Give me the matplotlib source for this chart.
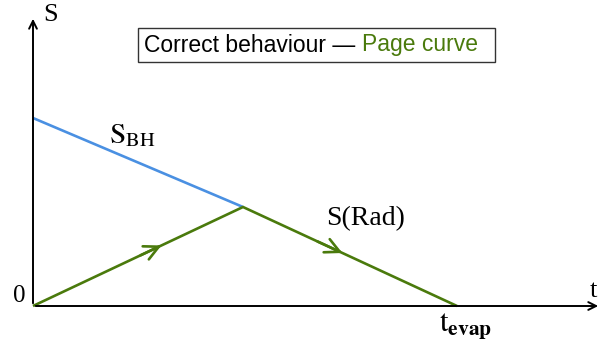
import matplotlib.pyplot as plt

# --- Data (pixel-like units, origin at the axes corner) ---
t_points = [0, 210, 424]          # start, Page time, evaporation
s_bh = [188, 99]                  # black hole entropy (start -> Page time)
s_rad = [0, 99, 0]                # radiation entropy, Page curve
arrow_t = [[105, 131], [282, 312]]  # where the direction chevrons sit

blue = "#4a90e2"
green = "#4a7a0c"

plt.rcParams['mathtext.fontset'] = 'stix'
plt.rcParams['font.family'] = ['Liberation Serif', 'DejaVu Serif']

fig = plt.figure(figsize=(6.05, 3.41), dpi=100)
ax = fig.add_axes([0, 0, 1, 1])
ax.set_xlim(-33, 572)
ax.set_ylim(-35, 306)
ax.axis('off')

# axes with arrow heads
ax.annotate("", xy=(568, 0), xytext=(0, 0),
            arrowprops=dict(arrowstyle='->', lw=1.4, color='black',
                            mutation_scale=14))
ax.annotate("", xy=(0, 290), xytext=(0, 0),
            arrowprops=dict(arrowstyle='->', lw=1.4, color='black',
                            mutation_scale=14))

# curves
ax.plot(t_points[:2], s_bh, color=blue, lw=1.9, solid_capstyle='butt')
ax.plot(t_points, s_rad, color=green, lw=1.9, solid_capstyle='butt')


def on_rad(t):
    if t <= t_points[1]:
        return s_rad[1] * t / t_points[1]
    return s_rad[1] * (t_points[2] - t) / (t_points[2] - t_points[1])


for a, b in arrow_t:
    ax.annotate("", xy=(b, on_rad(b)), xytext=(a, on_rad(a)),
                arrowprops=dict(arrowstyle='->', lw=1.9, color=green,
                                mutation_scale=26))

# labels
ax.text(10, 291, "S", fontsize=19, ha='left', va='center')
ax.text(557, 15, "t", fontsize=19, ha='left', va='center')
ax.text(-14, 10, "0", fontsize=18, ha='center', va='center')
ax.text(76, 170, r"$\mathrm{S}_{\mathrm{BH}}$", fontsize=21, ha='left', va='center')
ax.text(293, 87, "S(Rad)", fontsize=20, ha='left', va='center')
ax.text(406, -20, r"$\mathrm{t}_{\mathbf{evap}}$", fontsize=22, ha='left', va='center')

# title box
ax.text(329, 261, "Correct behaviour \u2014 ", fontsize=16.5, family='Liberation Sans',
        ha='right', va='center')
ax.text(329, 261, "Page curve", fontsize=16.5, family='Liberation Sans', color=green,
        ha='left', va='center')
ax.add_patch(plt.Rectangle((105, 244), 357, 34, fill=False, lw=1.0, edgecolor='#333333'))

fig.savefig("out.png", dpi=100)
